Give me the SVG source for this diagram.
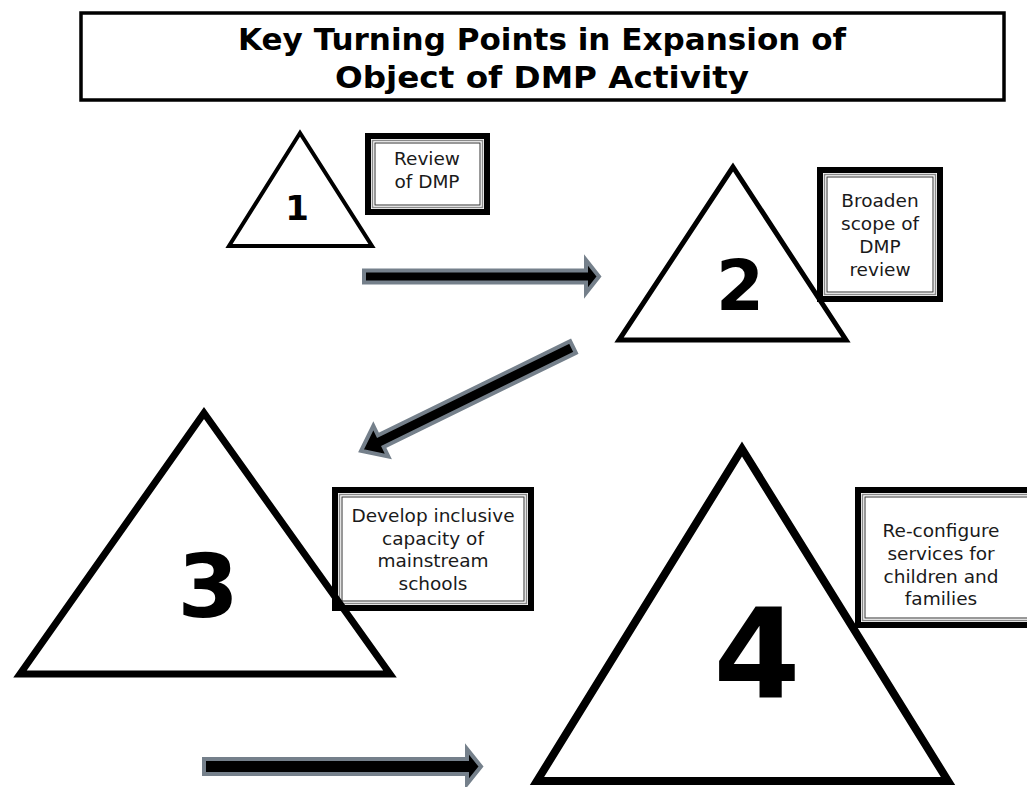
<svg xmlns="http://www.w3.org/2000/svg" width="1027" height="787" viewBox="0 0 1027 787">
  <style>
    .tri { fill: none; stroke: #000; stroke-linejoin: miter; }
    .num { font-family: "DejaVu Sans", Verdana, sans-serif; font-weight: bold; fill: #000; text-anchor: middle; }
    .lbl { font-family: "DejaVu Sans", Verdana, sans-serif; font-size: 18.5px; fill: #1a1a1a; text-anchor: middle; }
    .title { font-family: "DejaVu Sans", Verdana, sans-serif; font-weight: bold; font-size: 30px; fill: #000; text-anchor: middle; }
    .frame-outer { fill: #fff; stroke: #000; stroke-width: 6; }
    .frame-mid { fill: none; stroke: #8a8a8a; stroke-width: 1.5; }
    .frame-inner { fill: none; stroke: #333; stroke-width: 1; }
    .arrow { fill: #000; stroke: #75808b; stroke-width: 4; stroke-linejoin: miter; }
  </style>
  <defs>
    <!-- block arrow pointing along +x, length 236 -->
    <polygon id="diag-arrow" points="0,-6.5 214,-6.5 214,-17 236,0 214,17 214,6.5 0,6.5"/>
  </defs>

  <rect width="1027" height="787" fill="#fff"/>

  <!-- heading -->
  <g id="title">
    <rect x="81" y="13" width="923" height="87" fill="#fff" stroke="#000" stroke-width="3.5"/>
    <text class="title" x="542" y="50" textLength="608" lengthAdjust="spacingAndGlyphs">Key Turning Points in Expansion of</text>
    <text class="title" x="542" y="87.5" textLength="414" lengthAdjust="spacingAndGlyphs">Object of DMP Activity</text>
  </g>

  <!-- stage 1 -->
  <g id="stage1">
    <polygon class="tri" stroke-width="4" points="300,133 229,246 372,246"/>
    <text class="num" x="297" y="220" font-size="34">1</text>
  </g>
  <g id="label1">
    <rect class="frame-outer" x="368" y="136" width="119" height="76"/>
    <rect class="frame-mid" x="372.5" y="140.5" width="110" height="67"/>
    <rect class="frame-inner" x="375" y="143" width="105" height="62"/>
    <text class="lbl" x="427" y="165">Review</text>
    <text class="lbl" x="427" y="188">of DMP</text>
  </g>

  <!-- stage 2 -->
  <g id="stage2">
    <polygon class="tri" stroke-width="5" points="733,167 619,340 846,340"/>
    <text class="num" x="740" y="310" font-size="69">2</text>
  </g>
  <g id="label2">
    <rect class="frame-outer" x="820" y="170" width="120" height="129"/>
    <rect class="frame-mid" x="824.5" y="174.5" width="111" height="120"/>
    <rect class="frame-inner" x="827" y="177" width="106" height="115"/>
    <text class="lbl" x="880" y="207">Broaden</text>
    <text class="lbl" x="880" y="230">scope of</text>
    <text class="lbl" x="880" y="253">DMP</text>
    <text class="lbl" x="880" y="276">review</text>
  </g>

  <!-- stage 3 (triangle drawn over its label frame) -->
  <g id="label3">
    <rect class="frame-outer" x="335" y="490" width="196" height="118"/>
    <rect class="frame-mid" x="339.5" y="494.5" width="187" height="109"/>
    <rect class="frame-inner" x="342" y="497" width="182" height="104"/>
    <text class="lbl" x="433" y="522">Develop inclusive</text>
    <text class="lbl" x="433" y="545">capacity of</text>
    <text class="lbl" x="433" y="567">mainstream</text>
    <text class="lbl" x="433" y="590">schools</text>
  </g>
  <g id="stage3">
    <polygon class="tri" stroke-width="7" points="204,413 20,674 390,674"/>
    <text class="num" x="208" y="617" font-size="88">3</text>
  </g>

  <!-- stage 4 -->
  <g id="stage4">
    <polygon class="tri" stroke-width="8" points="742,449 537,781 948,781"/>
    <text class="num" x="757" y="698" font-size="125">4</text>
  </g>
  <g id="label4">
    <rect class="frame-outer" x="858" y="490" width="185" height="135"/>
    <rect class="frame-mid" x="862.5" y="494.5" width="176" height="126"/>
    <rect class="frame-inner" x="865" y="497" width="171" height="121"/>
    <text class="lbl" x="941" y="537">Re-configure</text>
    <text class="lbl" x="941" y="560">services for</text>
    <text class="lbl" x="941" y="583">children and</text>
    <text class="lbl" x="941" y="605">families</text>
  </g>

  <!-- connectors between stages -->
  <g id="connectors">
    <polygon class="arrow" points="364,270.5 586,270.5 586,260 599,276.5 586,293 586,282.5 364,282.5"/>
    <use href="#diag-arrow" class="arrow" transform="translate(573,347) rotate(153.9)"/>
    <polygon class="arrow" points="204,759 467,759 467,749 481,766.5 467,784 467,774 204,774"/>
  </g>
</svg>
